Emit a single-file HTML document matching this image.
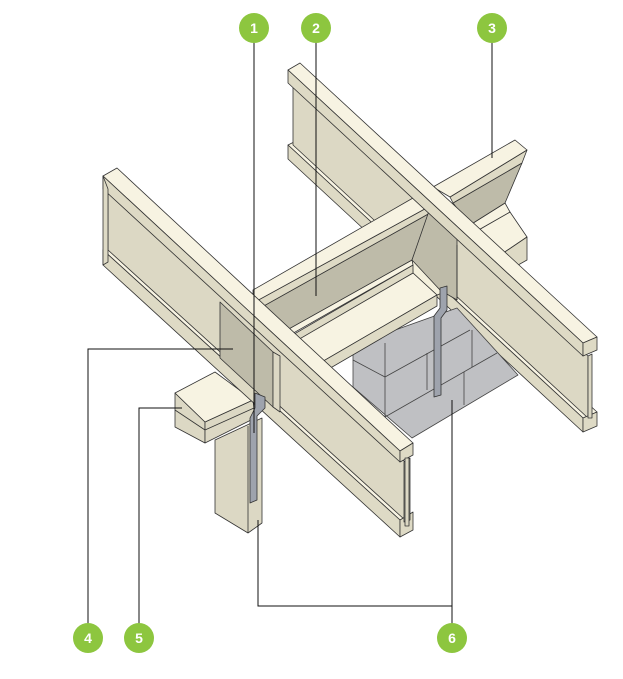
<!DOCTYPE html>
<html><head><meta charset="utf-8"><style>
html,body{margin:0;padding:0;background:#fff;width:623px;height:679px;overflow:hidden}
svg{display:block}
text{font-family:"Liberation Sans",sans-serif;font-weight:bold;font-size:14px;fill:#fff}
</style></head><body>
<svg width="623" height="679" viewBox="0 0 623 679" xmlns="http://www.w3.org/2000/svg">
<g stroke="#333" stroke-width="0.8" stroke-linejoin="round">
<!-- cross beam right segment (behind B2) -->
<polygon points="475,232 510,212 527,237 490,262" fill="#f7f3e2"/>
<polygon points="490,262 527,237 527,260 495,278" fill="#dedac5"/>
<polygon points="470,225 505,203 510,212 475,232" fill="#f7f3e2"/>
<polygon points="453,203 522,163 505,203 470,225" fill="#bebba9"/>
<polygon points="450,197 527,150 522,163 453,203" fill="#dedac5"/>
<polygon points="433,187 515,140 527,150 450,197" fill="#f7f3e2"/>
<!-- B2 back beam -->
<polygon points="288,145 300,139 597,412 583,418" fill="#f7f3e2"/>
<polygon points="288,145 583,418 583,432 288,159" fill="#dedac5"/>
<polygon points="293,83 588,356 588,418 293,145" fill="#dcd8c4"/>
<polygon points="583,418 597,412 597,426 583,432" fill="#dedac5"/>
<polygon points="588,356 592,354 592,418 588,418" fill="#dcd8c4"/>
<!-- blocks -->
<polygon points="353,360 353,387 412,438 518,375 457,308 353,345" fill="#bfc0c3" stroke="#444"/>
<g stroke="#444" fill="none">
<polyline points="353,360 385,377 470,330"/>
<line x1="385" y1="343" x2="385" y2="417"/>
<line x1="385" y1="417" x2="497" y2="353"/>
<line x1="427" y1="353" x2="427" y2="390"/>
<line x1="472" y1="330" x2="472" y2="367"/>
<line x1="464" y1="372" x2="464" y2="405"/>
</g>
<!-- cross beam left segment -->
<polygon points="412,260 450,290 437,295 413,273" fill="#f4f0dc"/>
<polygon points="253,362 413,273 437,295 270,392" fill="#f7f3e2"/>
<polygon points="270,392 437,295 437,306 272,402" fill="#dedac5"/>
<polygon points="253,358 413,265 413,273 253,366" fill="#dedac5"/>
<polygon points="253,349 412,260 413,265 253,356" fill="#f7f3e2"/>
<polygon points="253,312 430,213 412,260 253,349" fill="#bebba9"/>
<polygon points="253,303 432,205 430,213 253,312" fill="#dedac5"/>
<polygon points="253,290 413,198 432,205 253,303" fill="#f7f3e2"/>
<polygon points="430,208 457,238 457,300 440,290 412,260" fill="#bebba9"/>
<line x1="457" y1="245" x2="457" y2="300"/>
<!-- B2 top flange over everything -->
<polygon points="288,70 300,63 597,337 583,343" fill="#f7f3e2"/>
<polygon points="288,70 583,343 583,356 288,83" fill="#dedac5"/>
<polygon points="583,343 597,337 597,350 583,356" fill="#dedac5"/>
<!-- strap right -->
<path d="M440,288 L447,286 L447,310 L441,318 L441,395 L434,397 L434,316 L440,308 Z" fill="#9ea3ad"/>
<!-- column -->
<polygon points="215,440 262,418 262,523 248,533 215,513" fill="#dcd8c4"/>
<line x1="248" y1="426" x2="248" y2="533"/>
<!-- cap block -->
<polygon points="175,393 205,422 205,443 175,427" fill="#dcd8c4"/>
<line x1="175" y1="410" x2="205" y2="430"/>
<polygon points="205,422 253,400 255,418 205,443" fill="#dcd8c4"/>
<line x1="205" y1="430" x2="254" y2="408"/>
<polygon points="175,393 215,372 253,400 205,422" fill="#f7f3e2"/>
<!-- B1 front beam -->
<polygon points="103,250 115,245 412,515 400,520" fill="#f7f3e2"/>
<polygon points="103,250 400,520 400,537 103,265" fill="#dedac5"/>
<polygon points="108,189 405,462 405,520 108,250" fill="#dcd8c4"/>
<polygon points="103,176 117,168 413,443 400,451" fill="#f7f3e2"/>
<polygon points="103,176 400,451 400,462 103,189" fill="#dedac5"/>
<polygon points="400,451 413,443 413,455 400,462" fill="#dedac5"/>
<polygon points="400,520 413,512 413,530 400,537" fill="#dedac5"/>
<polygon points="404,462 410,458 410,520 404,522" fill="#dcd8c4"/>
<rect x="405" y="458" width="4" height="68" fill="#dcd8c4"/>
<polygon points="103,176 103,265 108,262 108,189" fill="#dedac5"/>
<!-- panel 4 -->
<polygon points="220,302 273,352 273,407 220,358" fill="#bebba9"/>
<polygon points="273,352 280,356 280,412 273,407" fill="#dcd8c4"/>
<!-- strap left -->
<path d="M255,393 L265,397 L265,408 L257,416 L257,500 L250,503 L250,418 L255,408 Z" fill="#9ea3ad"/>
</g>
<!-- leader lines -->
<g stroke="#111" stroke-width="1" fill="none">
<line x1="254" y1="40" x2="254" y2="433"/>
<line x1="316" y1="40" x2="316" y2="296"/>
<line x1="492" y1="40" x2="492" y2="158"/>
<polyline points="88,625 88,349 233,349"/>
<polyline points="139,625 139,408 182,408"/>
<polyline points="258,520 258,606 452,606"/>
<line x1="452" y1="400" x2="452" y2="625"/>
</g>
<g fill="#8dc63f">
<circle cx="254" cy="28" r="15"/><circle cx="316" cy="28" r="15"/><circle cx="492" cy="28" r="15"/>
<circle cx="88" cy="638" r="15"/><circle cx="139" cy="638" r="15"/><circle cx="452" cy="638" r="15"/>
</g>
<g text-anchor="middle">
<text x="254" y="33">1</text><text x="316" y="33">2</text><text x="492" y="33">3</text>
<text x="88" y="643">4</text><text x="139" y="643">5</text><text x="452" y="643">6</text>
</g>
</svg>
</body></html>
